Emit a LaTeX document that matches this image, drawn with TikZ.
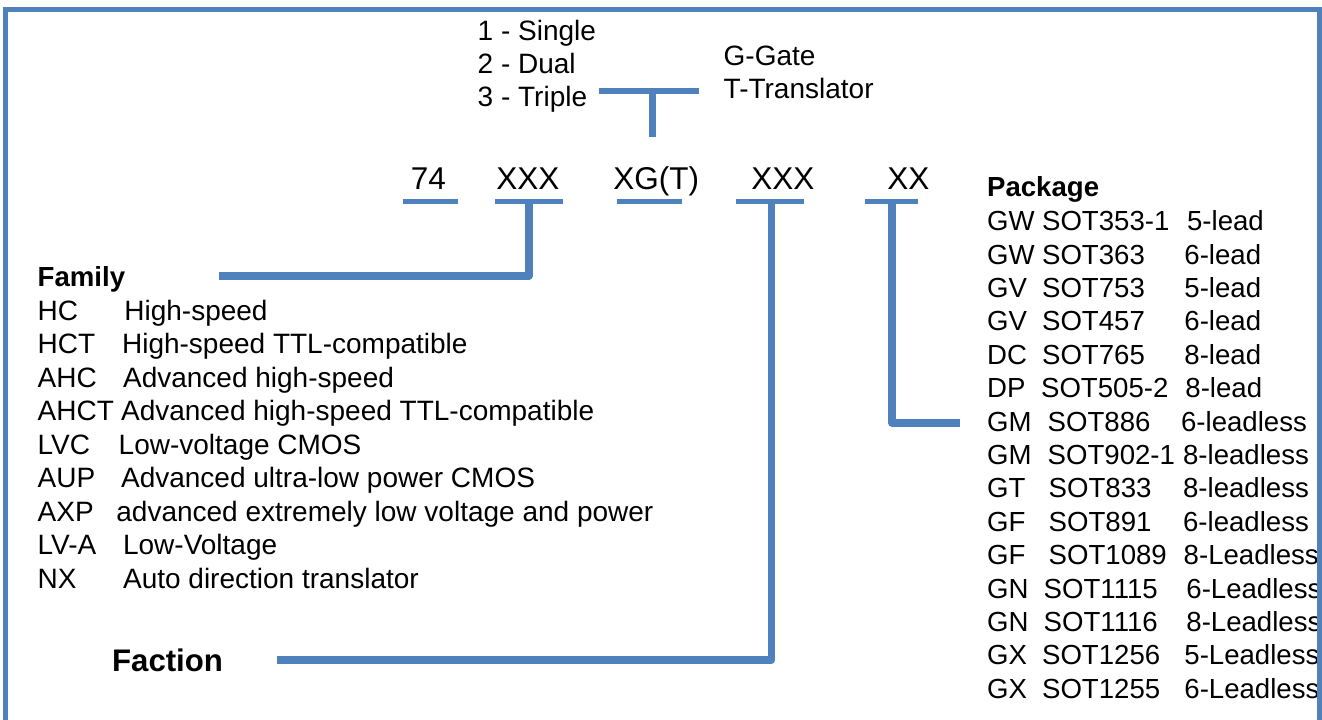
\documentclass[tikz,border=0pt]{standalone}
\usepackage{fontspec}
\setmainfont{Liberation Sans}
\definecolor{barblue}{RGB}{79,129,189}
\tikzset{
  txt/.style={inner sep=0pt, anchor=base west, font=\fontsize{14}{16}\selectfont},
  pkgtxt/.style={txt, font=\fontsize{13.8}{16}\selectfont},
  hdr/.style={txt, font=\fontsize{13.8}{16}\selectfont\bfseries},
  code/.style={txt, font=\fontsize{15.75}{18}\selectfont},
  bar/.style={barblue, line width=2.5pt},
  stem/.style={barblue, line width=3.8pt, line join=round},
}

\begin{document}
\begin{tikzpicture}[x=0.5pt, y=-0.5pt]
  \clip (0,0) rectangle (1322,719);

  % type number
  \node[code] (n74)  at (410.4,189.3) {74};
  \node[code] (fam)  at (496,189.3)   {XXX};
  \node[code] (gate) at (613,189.3)   {XG(T)};
  \node[code] (fct)  at (751,189.3)   {XXX};
  \node[code] (pkg)  at (887,189.3)   {XX};
  \foreach \a/\b in {403/458, 495/563, 617/682, 736/804, 865/918}
    \draw[bar] (\a,201) -- (\b,201);

  % gate count / gate type
  \node[txt] (single) at (477.3,40)    {1 - Single};
  \node[txt] (dual)   at (477.3,73.3)  {2 - Dual};
  \node[txt] (triple) at (477.3,106.7) {3 - Triple};
  \node[txt] (gg)     at (723.3,65)    {G-Gate};
  \node[txt] (tt)     at (723.3,98.3)  {T-Translator};
  \coordinate (tl) at (599,91);
  \coordinate (tr) at (699,91);
  \coordinate (tb) at (652.5,136.7);
  \draw[barblue, line width=3.4pt] (tl) -- (tr);
  \draw[stem] (tl -| tb) -- (tb);

  % family
  \node[hdr] (family) at (37.3,286.7) {Family};
  \foreach \code/\x/\desc [count=\i from 0] in {
      HC/124/High-speed,
      HCT/121.7/High-speed TTL-compatible,
      AHC/122.7/Advanced high-speed,
      AHCT/120.7/Advanced high-speed TTL-compatible,
      LVC/118.3/Low-voltage CMOS,
      AUP/120.7/Advanced ultra-low power CMOS,
      AXP/116/advanced extremely low voltage and power,
      LV-A/122.7/Low-Voltage,
      NX/122.7/Auto direction translator}
  {
    \node[txt] (famcode\i) at (37.3,320+33.5*\i) {\code};
    \node[txt] (famdesc\i) at (\x,320+33.5*\i) {\desc};
  }
  \coordinate (famtap) at (528.7,201);
  \coordinate (famend) at (219,276);
  \draw[stem] (famtap) |- (famend);

  % faction
  \node[txt, font=\fontsize{15.6}{18}\selectfont\bfseries] (faction) at (111.7,671.7) {Faction};
  \coordinate (fcttap) at (771.6,201);
  \coordinate (fctend) at (276.7,659.7);
  \draw[stem] (fcttap) |- (fctend);

  % package
  \node[hdr] (package) at (986.7,196.7) {Package};
  \foreach \code/\xa/\sot/\xb/\lead [count=\i from 0] in {
      GW/1041.7/SOT353-1/1186.7/5-lead,
      GW/1041.7/SOT363/1184/6-lead,
      GV/1041.7/SOT753/1184/5-lead,
      GV/1041.7/SOT457/1184/6-lead,
      DC/1041.7/SOT765/1184/8-lead,
      DP/1040.7/SOT505-2/1185/8-lead,
      GM/1047.3/SOT886/1180.7/6-leadless,
      GM/1047.3/SOT902-1/1182.7/8-leadless,
      GT/1048.3/SOT833/1182.7/8-leadless,
      GF/1048.3/SOT891/1182.7/6-leadless,
      GF/1048.3/SOT1089/1183.3/8-Leadless,
      GN/1043.3/SOT1115/1186/6-Leadless,
      GN/1043.3/SOT1116/1186/8-Leadless,
      GX/1041.7/SOT1256/1184/5-Leadless,
      GX/1041.7/SOT1255/1184/6-Leadless}
  {
    \node[pkgtxt] (pkgcode\i) at (986.7,230.7+33.4*\i) {\code};
    \node[pkgtxt] (pkgsot\i)  at (\xa,230.7+33.4*\i) {\sot};
    \node[pkgtxt] (pkglead\i) at (\xb,230.7+33.4*\i) {\lead};
  }
  \coordinate (pkgtap) at (892,201);
  \coordinate (pkgend) at (960,423);
  \draw[stem] (pkgtap) |- (pkgend);

  % frame
  \draw[barblue, line width=2.5pt] (5.5,9) rectangle (1319.5,760);
\end{tikzpicture}
\end{document}
